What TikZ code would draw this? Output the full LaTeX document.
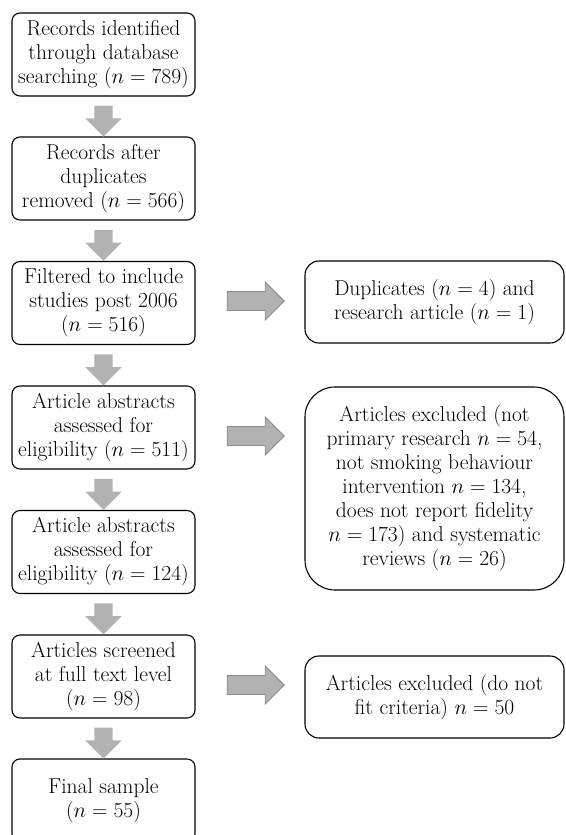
\RequirePackage{fix-cm}
\documentclass[tikz,border=0pt]{standalone}
\usepackage{amsmath}
\usepackage{fontspec}
\usepackage{tikz}
\usetikzlibrary{shapes.arrows, calc}

\definecolor{arrowgray}{RGB}{178,178,178}
\definecolor{arrowedge}{RGB}{138,138,138}

\tikzset{
  flowbox/.style={draw, line width=1.1pt, rounded corners=8pt, align=center,
    minimum width=183pt, minimum height=83pt, inner sep=0pt,
    font=\fontsize{21.5}{24}\selectfont},
  sidebox/.style={flowbox, minimum width=259pt, minimum height=82pt, rounded corners=14pt},
  downarr/.style={single arrow, fill=arrowgray, draw=none, inner xsep=9pt, inner ysep=0pt,
    shape border rotate=270, minimum height=31pt,
    single arrow head extend=9pt},
  rightarr/.style={single arrow, fill=arrowgray, draw=arrowedge, line width=0.8pt,
    inner xsep=0pt, inner ysep=9pt, minimum height=57pt,
    single arrow head extend=9.5pt}
}

\begin{document}
\begin{tikzpicture}[x=1pt, y=-1pt]
       \useasboundingbox (0,0) rectangle (565,835);
       % main column
       \node[flowbox] (b1) at (103.5,54.5) {Records identified\\ through database\\ searching ($n = 789$)};
       \node[flowbox] (b2) at (103.5,178.5) {Records after\\ duplicates\\ removed ($n = 566$)};
       \node[flowbox] (b3) at (103.5,303) {Filtered to include\\ studies post 2006\\ ($n = 516$)};
       \node[flowbox] (b4) at (103.5,427.5) {Article abstracts\\ assessed for\\ eligibility ($n = 511$)};
       \node[flowbox] (b5) at (103.5,552) {Article abstracts\\ assessed for\\ eligibility ($n = 124$)};
       \node[flowbox] (b6) at (103.5,676.5) {Articles screened\\ at full text level\\ ($n = 98$)};
       \node[flowbox] (b7) at (103.5,800.5) {Final sample\\ ($n = 55$)};
       % excluded records
       \node[sidebox] (r1) at (434.5,302) {Duplicates ($n = 4$) and\\ research article ($n = 1$)};
       \node[sidebox, minimum height=203pt, rounded corners=30pt] (r2) at (434.5,488.5)
            {Articles excluded (not\\ primary research $n = 54$,\\ not smoking behaviour\\
             intervention $n = 134$,\\ does not report fidelity\\ $n = 173$) and systematic\\
             reviews ($n = 26$)};
       \node[sidebox] (r3) at (434.5,697) {Articles excluded (do not\\ fit criteria) $n = 50$};
       % down arrows
       \node[downarr] (d1) at ($(b1.south)!.5!(b2.north)$) {};
       \node[downarr] (d2) at ($(b2.south)!.5!(b3.north)$) {};
       \node[downarr] (d3) at ($(b3.south)!.5!(b4.north)$) {};
       \node[downarr] (d4) at ($(b4.south)!.5!(b5.north)$) {};
       \node[downarr] (d5) at ($(b5.south)!.5!(b6.north)$) {};
       \node[downarr] (d6) at ($(b6.south)!.5!(b7.north)$) {};
       % side arrows
       \node[rightarr] (e1) at (251,301) {};
       \node[rightarr] (e2) at (251,436) {};
       \node[rightarr] (e3) at (251,685) {};
\end{tikzpicture}
\end{document}
